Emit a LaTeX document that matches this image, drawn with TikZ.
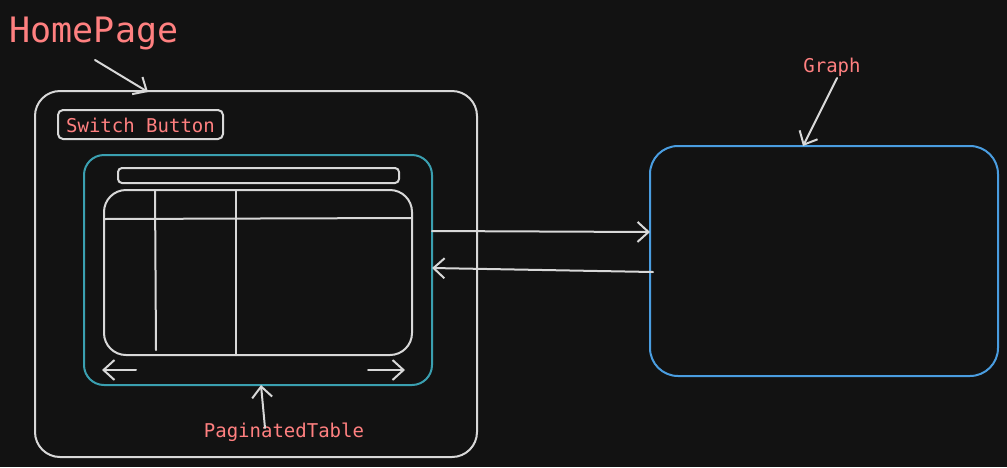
\documentclass[tikz,border=0pt]{standalone}
\usepackage{fontspec}
\setmonofont{DejaVu Sans Mono}
\usetikzlibrary{arrows.meta,calc}
\definecolor{bg}{HTML}{121212}
\definecolor{ink}{HTML}{D8D8D8}
\definecolor{lbl}{HTML}{FF8080}
\definecolor{teal}{HTML}{3A9FB0}
\definecolor{blu}{HTML}{4A9DE0}
\begin{document}
\begin{tikzpicture}[x=1pt,y=-1pt,
  box/.style={draw=ink,line width=2pt,rounded corners=#1,inner sep=0pt,outer sep=0pt},
  box/.default=20,
  arr/.style={draw=ink,line width=2pt,line cap=round,-{Straight Barb[length=11pt,width=20pt,line width=2pt]}},
  lbltext/.style={text=lbl,font=\ttfamily\fontsize{19}{19}\selectfont,inner sep=0pt},
  ln/.style={draw=ink,line width=2pt,line cap=round}]
\fill[bg] (0,0) rectangle (1007,467);
\useasboundingbox (0,0) rectangle (1007,467);
% labels
\node[text=lbl,font=\ttfamily\fontsize{35}{35}\selectfont,inner sep=0pt] (hp) at (94,33) {HomePage};
\node[lbltext] (sw) at (140.5,125) {Switch Button};
\node[lbltext] (gl) at (832,67) {Graph};
\node[lbltext] (pl) at (284,432) {PaginatedTable};
% boxes
\node[box=25,minimum width=442,minimum height=366] (home) at (256,274) {};
\node[box=5,minimum width=165,minimum height=29] (swb) at (140.5,124.5) {};
\node[box=20,draw=teal,minimum width=348,minimum height=230] (pt) at (258,270) {};
\node[box=4,minimum width=281,minimum height=15] (search) at (258.5,175.5) {};
\node[box=22,minimum width=308,minimum height=165] (tbl) at (258,272.5) {};
\node[box=28,draw=blu,minimum width=348,minimum height=230] (graph) at (824,261) {};
% table grid
\draw[ln] (tbl.west |- 0,219) -- (tbl.east |- 0,218);
\draw[ln] (155,191) -- (156,350);
\draw[ln] (236,191) -- (236,355);
% pagination arrows
\coordinate (la) at (136,370); \coordinate (lb) at (102,370);
\coordinate (ra) at (368,370); \coordinate (rb) at (405,370);
\draw[arr] (la) -- (lb);
\draw[arr] (ra) -- (rb);
% annotation arrows
\coordinate (hpa) at (95,60);
\coordinate (hpb) at (148,92);
\draw[arr] (hpa) -- (hpb);
\coordinate (ga) at (837,78);
\coordinate (gb) at (803,146);
\draw[arr] (ga) -- (gb);
\coordinate (pta) at (265,428);
\draw[arr] (pta) -- (pt.south -| 261,0);
% connectors
\coordinate (c1) at (pt.east |- 0,231);
\coordinate (c2) at (graph.west |- 0,232);
\coordinate (c3) at (653,272);
\coordinate (c4) at (pt.east |- 0,268);
\draw[arr] (c1) -- (c2);
\draw[arr] (c3) -- (c4);
\end{tikzpicture}
\end{document}
